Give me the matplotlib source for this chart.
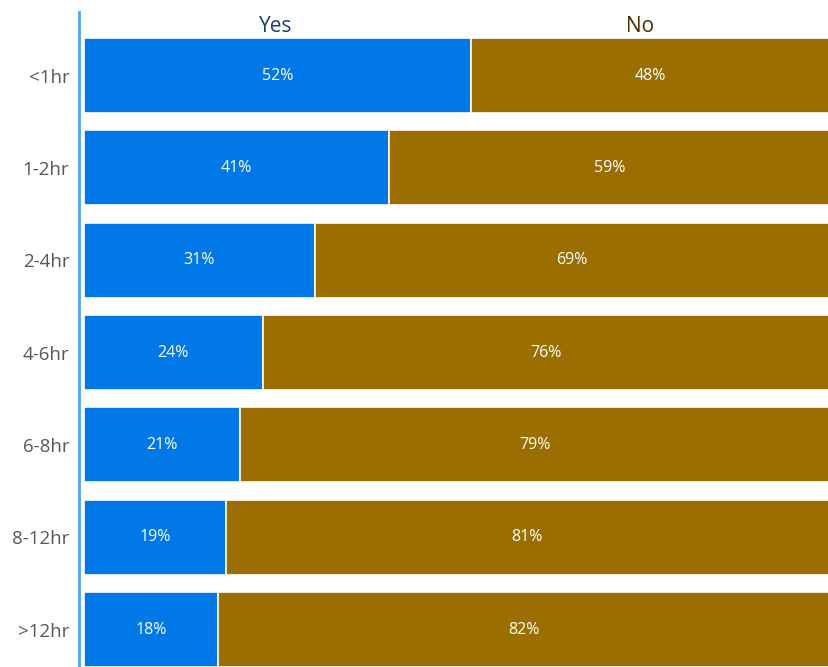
import numpy as np
import matplotlib.pyplot as plt

plt.rcParams['font.family'] = ['Open Sans', 'DejaVu Sans']

categories = ['<1hr', '1-2hr', '2-4hr', '4-6hr', '6-8hr', '8-12hr', '>12hr']
yes = [52, 41, 31, 24, 21, 19, 18]
no = [48, 59, 69, 76, 79, 81, 82]

W, H = 829, 667
fig = plt.figure(figsize=(W / 100, H / 100), dpi=100)
# axes from x=79..829 px, y=12..667 px
ax = fig.add_axes([79 / W, 0, 750 / W, (H - 12) / H])

y = np.arange(len(categories))
blue = '#0078E7'
brown = '#9A6E00'
ax.barh(y, yes, height=0.815, color=blue, edgecolor='white', linewidth=1.2)
ax.barh(y, no, left=yes, height=0.815, color=brown, edgecolor='white', linewidth=1.2)

for i in range(len(categories)):
    ax.text(yes[i] / 2, i, f'{yes[i]}%', ha='center', va='center', color='white', fontsize=11.5)
    ax.text(yes[i] + no[i] / 2, i, f'{no[i]}%', ha='center', va='center', color='white', fontsize=11.5)

# column headers
ax.text(yes[0] / 2 - 0.3, -0.53, 'Yes', ha='center', va='center', color='#1B3F73', fontsize=15)
ax.text(yes[0] + no[0] / 2 - 1.3, -0.53, 'No', ha='center', va='center', color='#4A3300', fontsize=15)

ax.set_xlim(-0.671, 100)
ax.set_ylim(6.406, -0.688)
ax.set_yticks(y)
ax.set_yticklabels(categories, fontsize=13.5, color='#5A5855')
ax.tick_params(axis='y', length=0, pad=7)
ax.set_xticks([])
for s in ['top', 'right', 'bottom']:
    ax.spines[s].set_visible(False)
ax.spines['left'].set_color('#4FA3F2')
ax.spines['left'].set_linewidth(2)

fig.savefig('out.png', dpi=100)
